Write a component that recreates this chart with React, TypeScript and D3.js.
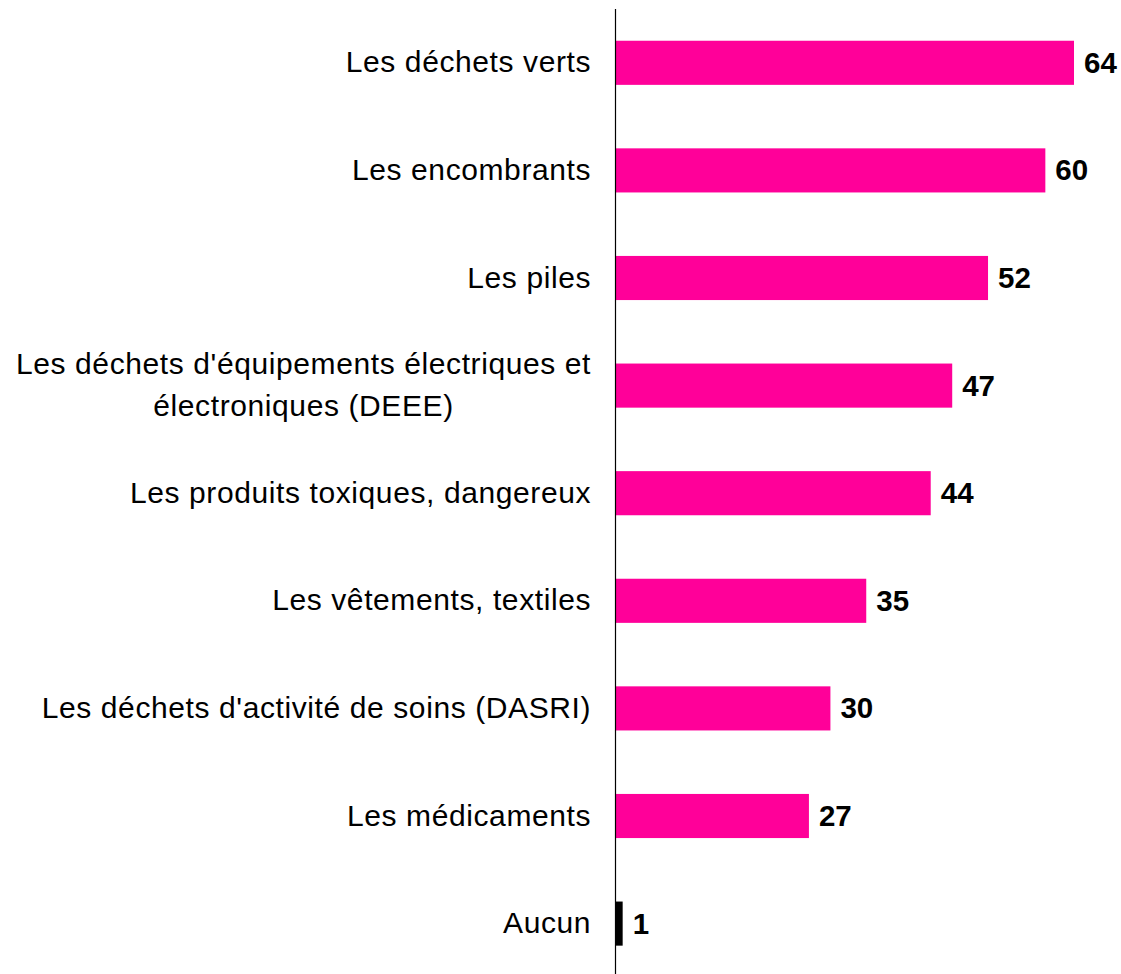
import React, { useEffect, useRef } from "react";
import * as d3 from "d3";

// Categories (top to bottom), label lines split where the original wraps
const categories = [
  "Les déchets verts",
  "Les encombrants",
  "Les piles",
  "Les déchets d'équipements électriques et|électroniques (DEEE)",
  "Les produits toxiques, dangereux",
  "Les vêtements, textiles",
  "Les déchets d'activité de soins (DASRI)",
  "Les médicaments",
  "Aucun",
];
const values = [64, 60, 52, 47, 44, 35, 30, 27, 1];
const barColors = [
  "#ff0099", "#ff0099", "#ff0099", "#ff0099", "#ff0099",
  "#ff0099", "#ff0099", "#ff0099", "#000000",
];

const App = () => {
  const chartRef = useRef(null);
  const width = 1121;
  const height = 974;
  const axisX = 615.5;
  const marginTop = 9;
  const fontFamily = "'Liberation Sans', Arial, sans-serif";

  useEffect(() => {
    if (!chartRef.current) return;
    const svg = d3.select(chartRef.current);
    svg.selectAll("*").remove();

    const data = categories.map((c, i) => ({ cat: c, value: values[i], color: barColors[i] }));

    const y = d3
      .scaleBand()
      .domain(categories)
      .range([marginTop, marginTop + 107.6 * categories.length])
      .paddingInner(0.59)
      .paddingOuter(0.295);

    const x = d3.scaleLinear([0, 64], [axisX, 1074]);

    // bars
    svg
      .append("g")
      .selectAll("rect")
      .data(data)
      .join("rect")
      .attr("x", x(0))
      .attr("y", (d) => y(d.cat))
      .attr("width", (d) => x(d.value) - x(0))
      .attr("height", y.bandwidth())
      .attr("fill", (d) => d.color);

    // value labels
    svg
      .append("g")
      .selectAll("text")
      .data(data)
      .join("text")
      .attr("x", (d) => x(d.value) + 10)
      .attr("y", (d) => y(d.cat) + y.bandwidth() / 2)
      .attr("dy", "0.34em")
      .attr("font-family", fontFamily)
      .attr("font-weight", "bold")
      .attr("font-size", 29.5)
      .attr("fill", "#000")
      .text((d) => d.value);

    // category labels
    const lineHeight = 41.5;
    const spacing = 0.6;
    const labels = svg
      .append("g")
      .selectAll("text")
      .data(data)
      .join("text")
      .attr("text-anchor", "middle")
      .attr("font-family", fontFamily)
      .attr("font-size", 30)
      .attr("letter-spacing", spacing)
      .attr("fill", "#000");

    labels.each(function (d) {
      const lines = d.cat.split("|");
      const t = d3.select(this);
      const cy = y(d.cat) + y.bandwidth() / 2;
      const node = this as SVGTextElement;
      lines.forEach((line, i) => {
        t.append("tspan")
          .attr("x", 0)
          .attr("y", cy + (i - (lines.length - 1) / 2) * lineHeight)
          .attr("dy", "0.32em")
          .text(line);
      });
      // right-align the block, center lines inside it
      const bbox = node.getBBox();
      const cx = axisX - 25 + spacing - bbox.width / 2;
      t.selectAll("tspan").attr("x", cx);
    });

    // axis line
    svg
      .append("line")
      .attr("x1", axisX)
      .attr("x2", axisX)
      .attr("y1", marginTop)
      .attr("y2", height)
      .attr("stroke", "#000")
      .attr("stroke-width", 1.2);
  }, []);

  return (
    <svg
      ref={chartRef}
      width={width}
      height={height}
      viewBox={`0 0 ${width} ${height}`}
      style={{ position: "absolute", left: 0, top: 0, background: "#fff" }}
    />
  );
};

export default App;
